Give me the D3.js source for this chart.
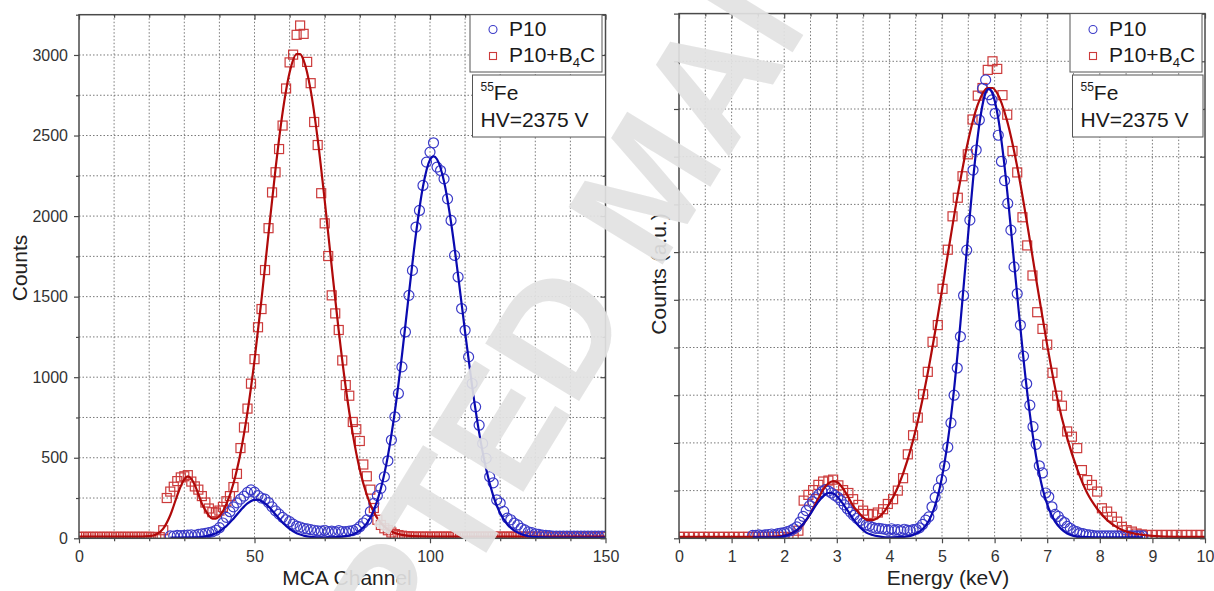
<!DOCTYPE html>
<html>
<head>
<meta charset="utf-8">
<style>
body { margin: 0; background: #fff; }
svg { display: block; font-family: "Liberation Sans", Arial, sans-serif; }
.grid line { stroke: #6a6a6a; stroke-width: 0.9; stroke-dasharray: 1.5,2; }
.frame { fill: none; stroke: #4a4a4a; stroke-width: 1.5; }
.axis line { stroke: #4a4a4a; stroke-width: 1.2; }
.axis text { font-size: 16px; fill: #333; font-family: "Liberation Sans", Arial, sans-serif; }
.axis-title { font-size: 21px; fill: #222; }
.box { fill: #fff; stroke: #555; stroke-width: 1; }
.box-text { font-size: 21px; fill: #1a1a1a; }
</style>
</head>
<body>
<svg width="1214" height="591"></svg>
<script src="https://d3js.org/d3.v7.min.js"></script>
<script>
// ---- left panel: raw MCA spectra (one value per channel) ----
var firstChannelB4C = 0;
var countsB4C = [
  9,9,9,9,9,9,9,9,9,9, 9,9,9,9,9,9,9,9,9,9,
  9,9,7,7,50,250,290,320,355,378,
  385,392,352,322,302,262,222,185,162,160,
  172,195,230,262,318,400,560,688,805,960,
  1112,1310,1423,1665,1925,2147,2272,2416,2562,2792,
  2954,3002,3125,3183,3131,2957,2825,2584,2441,2142,
  1955,1752,1508,1396,1293,1104,951,885,722,677,
  604,458,385,302,188,115,83,62,50,36,
  26,20,16,13,12,10,10,10,10,10,
  10,10,10,10,10,10,10,10,10,10, 10,10,10,10,10,10,10,10,10,10,
  10,10,10,10,10,10,10,10,10,10, 10,10,10,10,10,10,10,10,10,10,
  10,10,10,10,10,10,10,10,10,10, 10
];

var firstChannelP10 = 26;
var countsP10 = [
  15,14,18,16,18,20,22,19,24,27,
  30,35,40,50,66,95,130,165,195,220,
  243,262,285,300,286,265,250,243,222,195,
  170,150,130,115,103,88,76,70,62,58,
  54,50,47,44,50,42,45,40,48,42,
  41,45,48,55,72,95,114,165,217,265,
  310,382,481,610,754,899,1064,1281,1508,1663,
  1932,2035,2190,2335,2397,2455,2304,2283,2231,2107,
  1973,1756,1622,1426,1291,1126,961,816,702,589,
  496,382,344,238,219,167,125,115,94,83,
  62,52,40,35,28,24,20,18,16,13,
  13,13,13,13,13,13,13,13,13,13, 13,13,13,13,13
];

// fitted curves
var fitB4CChannel = [0,10,18,20,22,24,26,28,29,30,31,32,33,34,35,36,37,38,39,40,41,42,44,46,48,50,52,54,56,58,60,62,63,64,66,68,70,72,74,76,78,80,82,84,86,88,90,92,95,100,150];
var fitB4CCounts  = [10,10,10,13,24,60,143,267,324,366,384,369,330,275,216,175,140,122,122,138,168,213,340,528,783,1105,1483,1892,2294,2642,2891,3005,3005,2967,2782,2478,2097,1686,1288,936,647,426,269,162,95,55,33,21,13,10,10];

var fitP10Channel = [26,30,34,36,38,40,42,44,46,48,50,51,52,54,56,58,60,62,64,66,68,70,74,76,78,80,82,84,86,88,90,92,94,96,98,100,101,102,104,106,108,110,112,114,116,118,120,122,124,126,128,130,135,150];
var fitP10Counts  = [5,5,6,12,23,43,76,122,173,217,239,240,231,197,148,98,58,31,17,9,6,5,8,13,24,47,92,174,309,511,789,1134,1518,1889,2184,2350,2371,2353,2214,1960,1633,1280,944,656,430,265,155,87,47,25,13,8,5,5];

// ---- right panel: energy calibrated spectra ----
var energyB4C = [
  0.00,0.09,0.19,0.28,0.38,0.47,0.57,0.66,0.76,0.85,
  0.95,1.04,1.14,1.23,1.32,1.42,1.51,1.61,1.70,1.80,
  1.89,1.99,2.08,2.18,2.27,2.37,2.46,2.55,2.65,2.74,
  2.84,2.93,3.03,3.12,3.22,3.31,3.41,3.50,3.59,3.69,
  3.78,3.88,3.97,4.07,4.16,4.26,4.35,4.45,4.54,4.64,
  4.73,4.82,4.92,5.01,5.11,5.20,5.30,5.39,5.49,5.58,
  5.68,5.77,5.87,5.96,6.05,6.15,6.24,6.34,6.43,6.53,
  6.62,6.72,6.81,6.91,7.00,7.10,7.19,7.28,7.38,7.47,
  7.57,7.66,7.76,7.85,7.95,8.04,8.14,8.23,8.33,8.42,
  8.51,8.61,8.70,8.80,8.89,8.99,9.08,9.18,9.27,9.37,
  9.46,9.56,9.65,9.74,9.84,9.93,10.03
];
var auB4C = [
  0.03,0.03,0.03,0.03,0.03,0.03,0.03,0.03,0.03,0.03,
  0.03,0.03,0.03,0.03,0.03,0.03,0.03,0.03,0.03,0.03,
  0.03,0.03,0.02,0.02,0.16,0.79,0.91,1.01,1.12,1.19,
  1.21,1.23,1.11,1.01,0.95,0.82,0.70,0.58,0.51,0.50,
  0.54,0.61,0.72,0.82,1.00,1.26,1.76,2.16,2.53,3.02,
  3.49,4.12,4.47,5.23,6.05,6.75,7.14,7.59,8.05,8.78,
  9.28,9.44,9.82,10.00,9.84,9.29,8.88,8.12,7.67,6.73,
  6.14,5.51,4.74,4.39,4.06,3.47,2.99,2.78,2.24,2.13,
  1.89,1.43,1.22,1.12,0.98,0.63,0.56,0.45,0.35,0.24,
  0.17,0.14,0.10,0.08,0.07,0.07,0.07,0.07,0.07,0.07,
  0.07,0.07,0.07,0.07,0.07,0.07,0.07
];

var energyP10 = [
  1.40,1.46,1.52,1.58,1.64,1.70,1.76,1.82,1.88,1.94,
  2.00,2.06,2.12,2.18,2.24,2.30,2.36,2.42,2.48,2.54,
  2.60,2.66,2.72,2.78,2.84,2.90,2.96,3.02,3.08,3.14,
  3.20,3.26,3.32,3.38,3.44,3.50,3.56,3.62,3.68,3.74,
  3.80,3.86,3.92,3.98,4.04,4.10,4.16,4.22,4.28,4.34,
  4.39,4.45,4.51,4.57,4.63,4.69,4.75,4.81,4.87,4.93,
  4.99,5.05,5.11,5.17,5.23,5.29,5.35,5.41,5.47,5.53,
  5.59,5.65,5.71,5.77,5.83,5.89,5.95,6.01,6.07,6.13,
  6.19,6.25,6.31,6.37,6.43,6.49,6.55,6.61,6.67,6.73,
  6.79,6.85,6.91,6.97,7.03,7.09,7.15,7.21,7.27,7.33,
  7.38,7.44,7.50,7.56,7.62,7.68,7.74,7.80,7.86,7.92,
  7.98,8.04,8.10,8.16,8.22,8.28,8.34,8.40,8.46,8.52,
  8.58,8.64,8.70,8.76,8.82
];
var auP10 = [
  0.06,0.06,0.07,0.06,0.07,0.08,0.09,0.08,0.10,0.11,
  0.12,0.14,0.16,0.20,0.24,0.34,0.46,0.58,0.68,0.77,
  0.85,0.92,0.98,1.02,0.99,0.95,0.90,0.86,0.79,0.70,
  0.62,0.55,0.48,0.42,0.37,0.32,0.28,0.26,0.23,0.21,
  0.21,0.20,0.19,0.17,0.20,0.17,0.18,0.16,0.19,0.17,
  0.16,0.18,0.19,0.22,0.29,0.38,0.45,0.66,0.86,1.05,
  1.23,1.52,1.91,2.42,3.00,3.57,4.23,5.09,6.04,6.67,
  7.72,8.14,8.77,9.43,9.61,9.30,9.19,8.91,8.45,7.90,
  7.50,7.02,6.46,5.69,5.13,4.47,3.82,3.24,2.79,2.34,
  1.97,1.52,1.37,0.95,0.87,0.66,0.50,0.46,0.37,0.33,
  0.25,0.21,0.16,0.14,0.11,0.10,0.08,0.07,0.06,0.05,
  0.05,0.05,0.05,0.05,0.05,0.05,0.05,0.05,0.05,0.05,
  0.05,0.05,0.05,0.05,0.05
];

var fitB4CEnergy = [0,0.95,1.70,1.89,2.08,2.27,2.46,2.65,2.74,2.84,2.93,3.03,3.12,3.22,3.31,3.41,3.50,3.59,3.69,3.78,3.88,3.97,4.16,4.35,4.54,4.73,4.92,5.11,5.30,5.49,5.68,5.87,5.96,6.05,6.24,6.43,6.62,6.81,7.00,7.19,7.38,7.57,7.76,7.95,8.14,8.33,8.51,8.70,8.99,9.46,10.03];
var fitB4CAu     = [0.03,0.03,0.03,0.04,0.08,0.19,0.45,0.84,1.02,1.15,1.20,1.16,1.04,0.86,0.68,0.55,0.44,0.38,0.38,0.43,0.53,0.67,1.07,1.66,2.46,3.47,4.66,5.95,7.21,8.30,9.09,9.44,9.44,9.33,8.74,7.79,6.59,5.30,4.05,2.94,2.10,1.45,0.95,0.62,0.38,0.23,0.14,0.09,0.05,0.03,0.03];

var fitP10Energy = [1.40,1.64,1.88,2.00,2.12,2.24,2.36,2.48,2.60,2.72,2.84,2.90,2.96,3.08,3.20,3.32,3.44,3.56,3.68,3.80,3.92,4.04,4.28,4.40,4.51,4.63,4.75,4.87,4.99,5.11,5.23,5.35,5.47,5.59,5.71,5.83,5.89,5.95,6.07,6.19,6.31,6.43,6.55,6.67,6.79,6.91,7.03,7.15,7.27,7.38,7.50,7.62,7.92,8.82];
var fitP10Au     = [0.02,0.02,0.02,0.05,0.09,0.17,0.30,0.48,0.69,0.86,0.95,0.95,0.92,0.78,0.59,0.39,0.23,0.12,0.07,0.04,0.02,0.02,0.03,0.05,0.10,0.19,0.37,0.69,1.23,2.03,3.13,4.51,6.03,7.51,8.68,9.34,9.42,9.35,8.80,7.79,6.49,5.09,3.75,2.61,1.71,1.05,0.62,0.35,0.19,0.10,0.05,0.03,0.02,0.02];

var legendNames = ["P10", "P10+B", "4", "C"];
var sourceLabel = ["55", "Fe"];
var hvLabel = "HV=2375 V";

var colP10 = "#3b3bc8", colB4C = "#cc3b3b", lineP10 = "#0a0ab0", lineB4C = "#b00a0a";

var svg = d3.select("svg");
svg.append("rect").attr("width", 1214).attr("height", 591).attr("fill", "#fff");

function zip(xs, ys) { return xs.map(function(v, i) { return [v, ys[i]]; }); }

var panels = [
  {
    id: "mca", left: 79, right: 605.5, top: 14.7, bottom: 538.3,
    xDomain: [0, 150], yDomain: [0, 3250],
    xMajor: [0, 50, 100, 150], xMinor: d3.range(0, 151, 10),
    yMajor: d3.range(0, 3001, 500), yMinor: d3.range(0, 3251, 250),
    yLabels: true,
    b4c: countsB4C.map(function(c, i) { return [firstChannelB4C + i, c]; }),
    p10: countsP10.map(function(c, i) { return [firstChannelP10 + i, c]; }),
    fitB4C: zip(fitB4CChannel, fitB4CCounts),
    fitP10: zip(fitP10Channel, fitP10Counts),
    xTitle: "MCA Channel", xTitleX: 347,
    yTitle: "Counts", yTitleX: 27, yTitleY: 268,
    legendX: 470, infoX: 472.5, infoRight: 605.5
  },
  {
    id: "energy", left: 679, right: 1205, top: 13.6, bottom: 538.3,
    xDomain: [0, 10], yDomain: [0, 11],
    xMajor: d3.range(0, 11, 1), xMinor: d3.range(0, 10.01, 0.5),
    yMajor: d3.range(0, 12, 1), yMinor: [],
    yLabels: false,
    b4c: zip(energyB4C, auB4C),
    p10: zip(energyP10, auP10),
    fitB4C: zip(fitB4CEnergy, fitB4CAu),
    fitP10: zip(fitP10Energy, fitP10Au),
    xTitle: "Energy (keV)", xTitleX: 948,
    yTitle: "Counts (a.u.)", yTitleX: 666, yTitleY: 274,
    legendX: 1070, infoX: 1072.5, infoRight: 1203
  }
];

panels.forEach(drawPanel);

function styleAxis(sel) {
  sel.attr("class", "axis").attr("font-size", null).attr("font-family", null);
  sel.select(".domain").remove();
}

function drawPanel(p) {
  var x = d3.scaleLinear().domain(p.xDomain).range([p.left, p.right]);
  var y = d3.scaleLinear().domain(p.yDomain).range([p.bottom, p.top]);
  var g = svg.append("g");

  // dotted grid on every tick
  var grid = g.append("g").attr("class", "grid");
  grid.selectAll(".gv").data(p.xMinor.filter(function(d) { return d > p.xDomain[0] && d < p.xDomain[1]; }))
    .join("line").attr("class", "gv")
    .attr("x1", function(d) { return x(d); }).attr("x2", function(d) { return x(d); })
    .attr("y1", p.top).attr("y2", p.bottom);
  var yGrid = p.yMinor.length ? p.yMinor : p.yMajor;
  grid.selectAll(".gh").data(yGrid.filter(function(d) { return d > p.yDomain[0] && d < p.yDomain[1]; }))
    .join("line").attr("class", "gh")
    .attr("y1", function(d) { return y(d); }).attr("y2", function(d) { return y(d); })
    .attr("x1", p.left).attr("x2", p.right);

  svg.append("clipPath").attr("id", "clip-" + p.id)
    .append("rect").attr("x", p.left).attr("y", p.top)
    .attr("width", p.right - p.left).attr("height", p.bottom - p.top);
  var plot = g.append("g").attr("clip-path", "url(#clip-" + p.id + ")");

  plot.append("g").selectAll("rect").data(p.b4c).join("rect")
    .attr("x", function(d) { return x(d[0]) - 4.5; })
    .attr("y", function(d) { return y(d[1]) - 4.5; })
    .attr("width", 9).attr("height", 9)
    .attr("fill", "none").attr("stroke", colB4C).attr("stroke-width", 1.2);

  plot.append("g").selectAll("circle").data(p.p10).join("circle")
    .attr("cx", function(d) { return x(d[0]); })
    .attr("cy", function(d) { return y(d[1]); })
    .attr("r", 5)
    .attr("fill", "none").attr("stroke", colP10).attr("stroke-width", 1.2);

  var line = d3.line()
    .x(function(d) { return x(d[0]); })
    .y(function(d) { return y(d[1]); })
    .curve(d3.curveMonotoneX);

  plot.append("path").datum(p.fitB4C).attr("d", line)
    .attr("fill", "none").attr("stroke", lineB4C).attr("stroke-width", 2.2);
  plot.append("path").datum(p.fitP10).attr("d", line)
    .attr("fill", "none").attr("stroke", lineP10).attr("stroke-width", 2.2);

  // axes: outward ticks bottom/left, inward ticks top/right
  var xMinorOnly = p.xMinor.filter(function(d) { return p.xMajor.indexOf(d) < 0; });
  var yMinorOnly = p.yMinor.filter(function(d) { return p.yMajor.indexOf(d) < 0; });

  g.append("g").attr("transform", "translate(0," + p.bottom + ")")
    .call(d3.axisBottom(x).tickValues(p.xMajor).tickSize(5).tickPadding(7).tickFormat(d3.format("d")))
    .call(styleAxis);
  g.append("g").attr("transform", "translate(0," + p.bottom + ")")
    .call(d3.axisBottom(x).tickValues(xMinorOnly).tickSize(3).tickFormat(""))
    .call(styleAxis);
  g.append("g").attr("transform", "translate(0," + p.top + ")")
    .call(d3.axisTop(x).tickValues(p.xMajor).tickSize(-5).tickFormat(""))
    .call(styleAxis);
  g.append("g").attr("transform", "translate(0," + p.top + ")")
    .call(d3.axisTop(x).tickValues(xMinorOnly).tickSize(-3).tickFormat(""))
    .call(styleAxis);

  g.append("g").attr("transform", "translate(" + p.left + ",0)")
    .call(d3.axisLeft(y).tickValues(p.yMajor).tickSize(5).tickPadding(6)
      .tickFormat(p.yLabels ? d3.format("d") : ""))
    .call(styleAxis);
  g.append("g").attr("transform", "translate(" + p.left + ",0)")
    .call(d3.axisLeft(y).tickValues(yMinorOnly).tickSize(3).tickFormat(""))
    .call(styleAxis);
  g.append("g").attr("transform", "translate(" + p.right + ",0)")
    .call(d3.axisRight(y).tickValues(p.yMajor).tickSize(-5).tickFormat(""))
    .call(styleAxis);
  g.append("g").attr("transform", "translate(" + p.right + ",0)")
    .call(d3.axisRight(y).tickValues(yMinorOnly).tickSize(-3).tickFormat(""))
    .call(styleAxis);

  g.append("rect").attr("class", "frame")
    .attr("x", p.left).attr("y", p.top)
    .attr("width", p.right - p.left).attr("height", p.bottom - p.top);

  g.append("text").attr("class", "axis-title")
    .attr("x", p.xTitleX).attr("y", 585).attr("text-anchor", "middle").text(p.xTitle);
  g.append("text").attr("class", "axis-title")
    .attr("transform", "translate(" + p.yTitleX + "," + p.yTitleY + ") rotate(-90)")
    .attr("text-anchor", "middle").text(p.yTitle);

  // legend box
  var lg = g.append("g").attr("transform", "translate(" + p.legendX + ",0)");
  lg.append("rect").attr("class", "box").attr("x", 0).attr("y", p.top)
    .attr("width", 132).attr("height", 72 - p.top);
  lg.append("circle").attr("cx", 23).attr("cy", 29.5).attr("r", 4)
    .attr("fill", "none").attr("stroke", colP10).attr("stroke-width", 1.1);
  lg.append("rect").attr("x", 19.5).attr("y", 52.5).attr("width", 7).attr("height", 7)
    .attr("fill", "none").attr("stroke", colB4C).attr("stroke-width", 1.1);
  lg.append("text").attr("class", "box-text").attr("x", 39).attr("y", 36).text(legendNames[0]);
  var t2 = lg.append("text").attr("class", "box-text").attr("x", 39).attr("y", 62);
  t2.append("tspan").text(legendNames[1]);
  t2.append("tspan").attr("font-size", 13).attr("dy", 5).text(legendNames[2]);
  t2.append("tspan").attr("dy", -5).text(legendNames[3]);

  // source / voltage box
  var ib = g.append("g");
  ib.append("rect").attr("class", "box").attr("x", p.infoX).attr("y", 75)
    .attr("width", p.infoRight - p.infoX).attr("height", 62);
  var t3 = ib.append("text").attr("class", "box-text").attr("x", p.infoX + 8).attr("y", 100);
  t3.append("tspan").attr("font-size", 12).attr("dy", -9).text(sourceLabel[0]);
  t3.append("tspan").attr("dy", 9).text(sourceLabel[1]);
  ib.append("text").attr("class", "box-text").attr("x", p.infoX + 8).attr("y", 127).text(hvLabel);
}

// manuscript watermark drawn over everything
svg.append("text")
  .attr("transform", "translate(174,1062) rotate(-58.5)")
  .attr("font-size", 160)
  .attr("font-weight", "bold")
  .attr("fill", "#e2e2e2")
  .attr("fill-opacity", 0.92)
  .text("ACCEPTED MANUSCRIPT");
</script>
</body>
</html>
